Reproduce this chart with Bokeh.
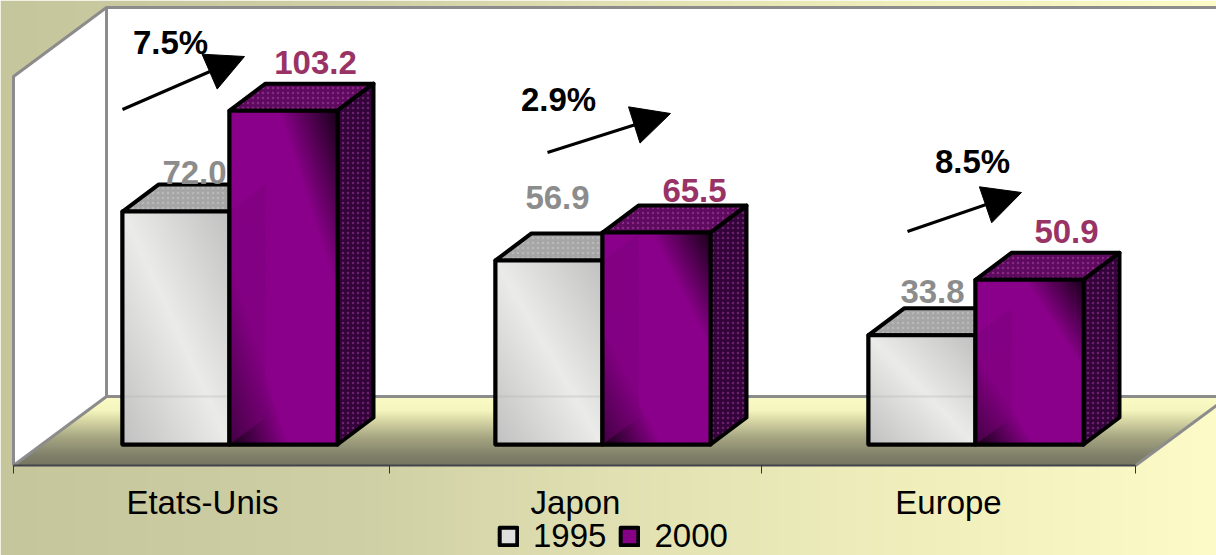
import numpy as np
from bokeh.embed import file_html
from bokeh.resources import INLINE
from bokeh.plotting import figure
from bokeh.models import Range1d, FixedTicker, Legend, LegendItem, Arrow, NormalHead
from bokeh.core.properties import value

# ---------- data ----------
categories = ["Etats-Unis", "Japon", "Europe"]
series_names = ["1995", "2000"]
values_1995 = [72.0, 56.9, 33.8]
values_2000 = [103.2, 65.5, 50.9]
growth_labels = ["7.5%", "2.9%", "8.5%"]

# ---------- layout (page pixels of the reference) ----------
W, H = 1216, 555
PAGE = 0
PX_PER_CAT, CX0 = 373.0, 202.0
PX_PER_VAL, BASE_Y = 3.235, 444.0
def X(px): return (px - CX0) / PX_PER_CAT
def Y(py): return (BASE_Y - py) / PX_PER_VAL
DX, DY = 36 / PX_PER_CAT, 27 / PX_PER_VAL
L0, L1, L2 = X(122) , X(229), X(337)   # bar edges for first category
FL_FRONT, FL_BACK = 465, 396
WALL_TOP = 7
FLOOR_DX, FLOOR_DY = 93, 69
FS = "33px"

p = figure(width=W, height=H, output_backend="svg", toolbar_location=None,
           x_range=Range1d(X(PAGE), X(PAGE + W)), y_range=Range1d(Y(PAGE + H), Y(PAGE)),
           min_border=0, outline_line_color=None)
p.grid.visible = False
p.yaxis.visible = False

def rgba(arr):
    a = np.asarray(np.clip(arr, 0, 255), dtype=np.uint8)
    return a.view(np.uint32).reshape(a.shape[:2])

# ---------- page background ----------
bw, bh = 600, 4
u = np.linspace(0, 1, bw)
stops_x, stops_c = [0, .3, .5, .75, 1], [(198, 198, 156), (208, 208, 166), (224, 224, 178), (240, 239, 188), (253, 252, 200)]
bg = np.zeros((bh, bw, 4))
for c in range(3):
    bg[:, :, c] = np.interp(u, stops_x, [s[c] for s in stops_c])
bg[:, :, 3] = 255
p.image_rgba(image=[rgba(bg)], x=X(PAGE), y=Y(PAGE + H), dw=W / PX_PER_CAT, dh=H / PX_PER_VAL)

# ---------- walls ----------
wall_x_l, wall_x_r = 13, 106
p.patch([X(v) for v in (wall_x_l, wall_x_r, wall_x_r, wall_x_l)],
        [Y(v) for v in (WALL_TOP + FLOOR_DY, WALL_TOP, FL_BACK, FL_FRONT)], fill_color="white", line_color=None)
p.patch([X(v) for v in (wall_x_r, 1240, 1240, wall_x_r)],
        [Y(v) for v in (WALL_TOP, WALL_TOP, FL_BACK, FL_BACK)], fill_color="white", line_color=None)

# ---------- floor gradient ----------
fx0, fx1 = wall_x_l, 1240
fy0, fy1 = FL_BACK, FL_FRONT
fw, fh = fx1 - fx0, fy1 - fy0
floor = np.zeros((fh, fw, 4))
for r in range(fh):               # r = 0 at bottom of the image (front of floor)
    t = r / (fh - 1)              # 1 at back
    rc = np.interp(t, [0, .15, .4, .65, .8, 1], [118, 130, 165, 215, 245, 252])
    gc = rc
    bc = np.interp(t, [0, .15, .4, .65, .8, 1], [98, 108, 130, 165, 190, 200])
    left = wall_x_l + FLOOR_DX * t - fx0
    right = 1135 + FLOOR_DX * t - fx0
    floor[r, :, 0], floor[r, :, 1], floor[r, :, 2] = rc, gc, bc
    floor[r, :, 3] = 255 * ((np.arange(fw) >= left) & (np.arange(fw) <= right))
p.image_rgba(image=[rgba(floor)], x=X(fx0), y=Y(fy1), dw=fw / PX_PER_CAT, dh=fh / PX_PER_VAL)

wall_line = dict(line_color="#8c8c8c", line_width=3)
p.line([X(v) for v in (wall_x_l, wall_x_l, wall_x_r, 1240)],
       [Y(v) for v in (FL_FRONT, WALL_TOP + FLOOR_DY, WALL_TOP, WALL_TOP)], **wall_line)
p.line([X(v) for v in (wall_x_r, wall_x_r)], [Y(WALL_TOP), Y(FL_BACK)], **wall_line)
p.line([X(v) for v in (wall_x_l, wall_x_r, 1240)], [Y(FL_FRONT), Y(FL_BACK), Y(FL_BACK)], **wall_line)
p.line([X(1135), X(1135 + FLOOR_DX)], [Y(FL_FRONT), Y(FL_BACK)], **wall_line)

# ---------- bars ----------
def face_image(v, bright, dark, start, tex):
    w = int(round((L1 - L0) * PX_PER_CAT)) if bright[0] > 200 else int(round((L2 - L1) * PX_PER_CAT))
    h = max(int(round(v * PX_PER_VAL)), 2)
    xx, yy = np.meshgrid(np.linspace(0, 1, w), np.linspace(1, 0, h))   # row 0 = bottom
    yy_px = np.arange(h)[:, None]; xx_px = np.arange(w)[None, :]
    d = np.abs(xx - yy)
    t = np.clip((d - start) / (1 - start), 0, 1)
    img = np.zeros((h, w, 4))
    pattern = 1 + tex * (((xx_px + yy_px) % 3) == 0)
    for c in range(3):
        img[:, :, c] = (bright[c] + (dark[c] - bright[c]) * t) * pattern
    img[:, :, 3] = 255
    return rgba(img)

LIGHT_B, LIGHT_D = (234, 234, 232), (192, 192, 192)
PURP_B, PURP_D = (132, 0, 132), (24, 0, 24)
outline = dict(line_color="black", line_width=4, line_join="round")

# 1995 bars
cat_x = np.arange(len(categories), dtype=float)
src_l = [L0 + i for i in cat_x]
src_r = [L1 + i for i in cat_x]
r_1995 = p.quad(left=src_l, right=src_r, bottom=[0] * 3, top=values_1995, fill_color="#dedede", **outline)
for i, v in zip(cat_x, values_1995):
    xs = [L0 + i, L0 + i + DX, L1 + i + DX, L1 + i]
    ys = [v, v + DY, v + DY, v]
    p.patch(xs, ys, fill_color="#a6a6a6", hatch_pattern="dot", hatch_color="#c4c4c4", hatch_scale=5, hatch_alpha=.6, **outline)
    p.image_rgba(image=[face_image(v, LIGHT_B, LIGHT_D, 0.0, .02)], x=L0 + i, y=0, dw=L1 - L0, dh=v)
    p.line([L0 + i, L1 + i], [Y(FL_BACK)] * 2, line_color="#b4b4b4", line_width=2, line_dash="1 1", line_alpha=.7)
p.quad(left=src_l, right=src_r, bottom=[0] * 3, top=values_1995, fill_color=None, **outline)

# 2000 bars
src_l2 = [L1 + i for i in cat_x]
src_r2 = [L2 + i for i in cat_x]
r_2000 = p.quad(left=src_l2, right=src_r2, bottom=[0] * 3, top=values_2000, fill_color="#860086", **outline)
for i, v, v0 in zip(cat_x, values_2000, values_1995):
    xs = [L1 + i, L1 + i + DX, L2 + i + DX, L2 + i]
    ys = [v, v + DY, v + DY, v]
    p.patch(xs, ys, fill_color="#5e0a5e", hatch_pattern="dot", hatch_color="#a040a0", hatch_scale=5, hatch_alpha=.6, **outline)
    xs = [L2 + i, L2 + i + DX, L2 + i + DX, L2 + i]
    ys = [v, v + DY, DY, 0]
    p.patch(xs, ys, fill_color="#33033a", hatch_pattern="dot", hatch_color="#9a3a9a", hatch_scale=5, hatch_alpha=.55, **outline)
    p.image_rgba(image=[face_image(v, PURP_B, PURP_D, 0.45, .14)], x=L1 + i, y=0, dw=L2 - L1, dh=v)
    # the 1995 side face seen through the translucent front
    p.patch([L1 + i, L1 + i + DX, L1 + i + DX, L1 + i], [v0, v0 + DY, DY, 0],
            fill_color="#7a007a", fill_alpha=.45, line_color=None)
p.quad(left=src_l2, right=src_r2, bottom=[0] * 3, top=values_2000, fill_color=None, **outline)

# ---------- value labels ----------
FONT = value("Liberation Sans")
LABEL_1995_PX = [(194, 172), (557, 197), (932, 291)]
LABEL_2000_PX = [(315, 62), (694, 190), (1066, 231)]
for vals, pos, col in ((values_1995, LABEL_1995_PX, "#8c8c8c"), (values_2000, LABEL_2000_PX, "#993366")):
    p.text([X(a) for a, _ in pos], [Y(b) for _, b in pos], text=[f"{v:.1f}" for v in vals],
           text_font=FONT, text_font_size=FS, text_font_style="bold", text_color=col,
           text_align="center", text_baseline="middle")
GROWTH_PX = [(170, 42), (558, 99), (972, 161)]
p.text([X(a) for a, _ in GROWTH_PX], [Y(b) for _, b in GROWTH_PX], text=growth_labels,
       text_font=FONT, text_font_size=FS, text_font_style="bold", text_color="black",
       text_align="center", text_baseline="middle")

# ---------- growth arrows ----------
ARROWS_PX = [((122, 109), (244, 56)), ((547, 152), (670, 113)), ((907, 231), (1021, 192))]
for (a, b), (c, d) in ARROWS_PX:
    p.add_layout(Arrow(end=NormalHead(size=38, fill_color="black", line_color="black"),
                       x_start=X(a), y_start=Y(b), x_end=X(c), y_end=Y(d),
                       line_color="black", line_width=3))

# ---------- category axis ----------
ax = p.xaxis[0]
ax.fixed_location = Y(FL_FRONT)
ax.bounds = (X(13), X(1135))
ax.ticker = FixedTicker(ticks=list(cat_x), minor_ticks=[X(13), X(389), X(761), X(1135)])
ax.major_label_overrides = {int(i): c for i, c in zip(cat_x, categories)}
ax.major_tick_line_color = None
ax.minor_tick_line_color = "#333333"
ax.minor_tick_line_width = 1
ax.minor_tick_in = 0
ax.minor_tick_out = 8
ax.axis_line_color = "#44444c"
ax.axis_line_width = 2
ax.major_label_standoff = 10
ax.major_label_text_font = "Liberation Sans"
ax.major_label_text_font_size = FS
ax.major_label_text_color = "black"

# ---------- legend ----------
legend = Legend(items=[LegendItem(label=series_names[0], renderers=[r_1995]),
                       LegendItem(label=series_names[1], renderers=[r_2000])],
                orientation="horizontal", location=(497, 0),
                background_fill_alpha=0, border_line_color=None,
                label_text_font="Liberation Sans", label_text_font_size=FS, label_text_color="black",
                glyph_width=22, glyph_height=22, label_standoff=14, spacing=12,
                padding=0, margin=0, label_height=22)
p.add_layout(legend)

open("out.html", "w").write(file_html(p, INLINE))
